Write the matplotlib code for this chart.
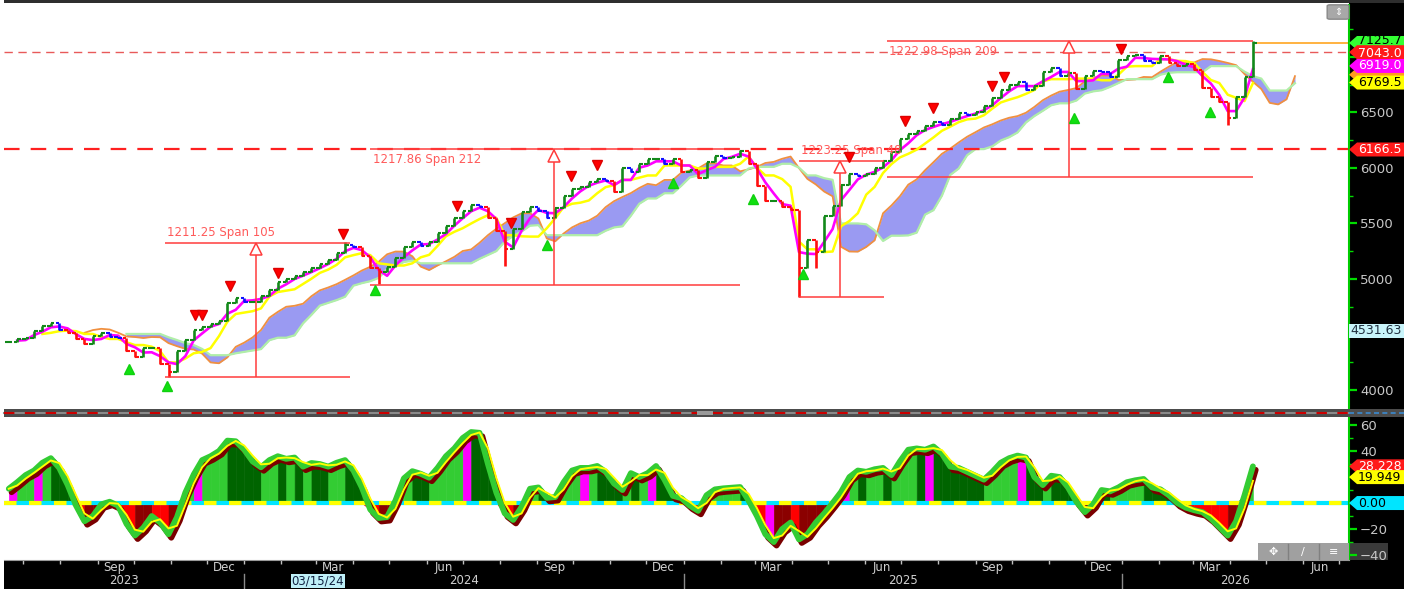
import numpy as np
import pandas as pd
import matplotlib
matplotlib.use("Agg")
import matplotlib.pyplot as plt
import matplotlib.dates as mdates
from matplotlib import patheffects as pe
from matplotlib.patches import Rectangle, Polygon, FancyBboxPatch
from matplotlib.lines import Line2D
from matplotlib.ticker import MultipleLocator

W, H = 1414, 589

# ---- weekly data (week starting Monday) ----
week_start = "2023-06-19"
closes = [
    4430, 4460, 4470, 4530, 4580, 4600, 4545, 4510, 4460, 4410,
    4490, 4510, 4480, 4470, 4350, 4300, 4375, 4380, 4230, 4160,
    4350, 4450, 4545, 4570, 4595, 4620, 4780, 4825, 4790, 4790,
    4850, 4905, 4975, 5000, 5025, 5060, 5100, 5135, 5170, 5230,
    5310, 5290, 5210, 5100, 5060, 5105, 5185, 5290, 5330, 5300,
    5330, 5410, 5480, 5550, 5615, 5670, 5650, 5550, 5430, 5270,
    5450, 5600, 5645, 5615, 5545, 5640, 5750, 5810, 5830, 5870,
    5905, 5880, 5785, 6000, 5965, 6040, 6080, 6080, 6040, 6080,
    5965, 5980, 5910, 6050, 6110, 6090, 6100, 6150, 6040, 5840,
    5700, 5700, 5650, 5620, 5100, 5350, 5240, 5570, 5660, 5850,
    5945, 5930, 5950, 6000, 6060, 6140, 6260, 6305, 6330, 6380,
    6410, 6390, 6440, 6495, 6480, 6500, 6560, 6630, 6700, 6750,
    6775, 6700, 6740, 6860, 6900, 6830, 6855, 6710, 6830, 6870,
    6860, 6820, 6970, 7005, 7015, 6965, 6950, 7010, 6945, 6915,
    6935, 6880, 6720, 6640, 6595, 6450, 6640, 6820, 7125,
]
wick_low_weeks = [19, 44, 59, 94, 96, 145]
wick_lows = [4117, 4953, 5119, 4835, 5100, 6385]
wick_high_weeks = [40, 87, 148]
wick_highs = [5330, 6166, 7142]

osc = [
    11, 16, 21.5, 25, 31, 34.5, 27, 14, -2, -14,
    -10, -1, 1, -2, -16, -25, -19, -10, -15, -24,
    -11, 8, 22, 33, 36, 40, 48, 47.5, 41, 32,
    27.5, 33, 36, 34, 35, 28, 30.8, 30, 28, 31,
    33, 25, 12, -5, -11.5, -10.8, 2, 19, 24.5, 22.5,
    19.5, 27, 36, 42, 50, 54.6, 54, 30, 8, -8,
    -13, -3, 11, 12, 4, 4.6, 16, 25, 27, 27,
    28.5, 24, 15, 10, 23, 20, 23, 28.5, 18, 5.5,
    3.8, -2, -6, 6, 10.5, 11.3, 11.8, 12.3, 2, -10,
    -24, -30, -20, -15, -28, -24, -15, -8, 0, 8.5,
    20, 25, 24, 26, 27, 21.5, 32, 41, 42, 41,
    43.5, 38, 28, 27, 24, 21, 18, 24, 31, 34.5,
    36.5, 35, 20, 13.8, 21, 20, 12, 1, -7, -1,
    10, 9, 12, 16, 17.5, 18.5, 12, 10.5, 6, 0,
    -3.5, -5.5, -7, -12, -18.5, -25, -14, 6, 28.2,
]
magenta_weeks = [1, 4, 23, 55, 69, 77, 91, 100, 110, 121]

sell_dates = ["2023-11-21", "2023-11-27", "2023-12-20", "2024-01-29", "2024-03-23",
              "2024-06-26", "2024-08-10", "2024-09-29", "2024-10-21", "2025-05-19",
              "2025-07-04", "2025-07-28", "2025-09-15", "2025-09-25", "2025-12-31"]
sell_levels = [4676, 4676, 4937, 5054, 5405, 5658, 5505, 5928, 6027, 6099,
               6423, 6541, 6739, 6820, 7072]
buy_dates = ["2023-09-27", "2023-10-29", "2024-04-19", "2024-09-09", "2024-12-23",
             "2025-02-28", "2025-04-10", "2025-11-22", "2026-02-08", "2026-03-15"]
buy_levels = [4189, 4036, 4901, 5306, 5865, 5721, 5045, 6450, 6820, 6505]

span_labels = ["1211.25 Span 105", "1217.86 Span 212", "1223.25 Span 48", "1222.98 Span 209"]
span_start = ["2023-10-27", "2024-04-15", "2025-04-07", "2025-06-19"]
span_end = ["2024-03-29", "2025-02-17", "2025-06-17", "2026-04-20"]
span_mid = ["2024-01-11", "2024-09-15", "2025-05-11", "2025-11-18"]
span_low = [4117, 4948.64, 4838, 5919]
span_high = [5328.25, 6166.5, 6061.25, 7141.98]
span_text_above = [True, False, True, False]

level_lines = [7043.0, 6166.5]
last_price = 7125.7
price_ticks = [4000, 4500, 5000, 5500, 6000, 6500, 7000]
price_tick_labels = ["4000", "", "5000", "5500", "6000", "6500", ""]
osc_ticks = [-40, -20, 0, 20, 40, 60]
osc_tick_labels = ["\u221240", "\u221220", "", "", "40", "60"]
# value, text, face colour, text colour, text shift (px, up)
price_tags = [(6840, "", "#ff9a20", "black", 0),
              (7125.7, "7125.7", "#33ff33", "black", 2.5),
              (7043.0, "7043.0", "#ff1a1a", "white", -1),
              (6919.0, "6919.0", "#ff00ff", "white", 0),
              (6769.5, "6769.5", "#ffff00", "black", 0),
              (6166.5, "6166.5", "#ff1a1a", "white", 0)]
osc_tags = [(28.228, "28.228", "#ff1a1a", "white", 0),
            (19.949, "19.949", "#ffff00", "black", 0),
            (0.0, "0.00", "#00e5ff", "black", 0)]
cursor_value = 4531.63
cursor_date = "03/15/24"

# ---- figure ----
fig = plt.figure(figsize=(W / 100, H / 100), dpi=100, facecolor="white")


def fx(px):
    return px / W


def fy(py):
    return 1 - py / H


def box(x0, y0, x1, y1, color, z=-1):
    fig.add_artist(Rectangle((fx(x0), fy(y1)), fx(x1) - fx(x0), fy(y0) - fy(y1),
                             facecolor=color, edgecolor="none", zorder=z))


box(1349, 0, 1404, 589, "black")
box(4, 560, 1404, 589, "black")
box(4, 0, 1404, 3, "#2e2e2e")
box(1349, 543, 1388, 560, "#3a3a3a", z=-0.5)

ax1 = fig.add_axes([fx(4), fy(408), fx(1349) - fx(4), fy(5) - fy(408)])
ax2 = fig.add_axes([fx(4), fy(560), fx(1349) - fx(4), fy(418) - fy(560)])

xmin = mdates.date2num(pd.Timestamp("2023-06-15"))
xmax = mdates.date2num(pd.Timestamp("2026-07-09"))
for ax in (ax1, ax2):
    ax.set_xlim(xmin, xmax)
ax1.set_ylim(3838, 7468)
ax2.set_ylim(-43.8, 65.4)

dates = pd.date_range(week_start, periods=len(closes), freq="7D")
ext_dates = pd.date_range(week_start, periods=len(closes) + 5, freq="7D")
xn = mdates.date2num(dates)

c = np.array(closes, float)
o = np.r_[c[0], c[:-1]]
hi = np.maximum(o, c)
lo = np.minimum(o, c)
hi[wick_high_weeks] = wick_highs
lo[wick_low_weeks] = wick_lows

h_s, l_s = pd.Series(hi), pd.Series(lo)
tenkan = (h_s.rolling(2).max() + l_s.rolling(2).min()) / 2
kijun = (h_s.rolling(5).max() + l_s.rolling(5).min()) / 2
span_a = (tenkan + kijun) / 2
span_b = (h_s.rolling(10).max() + l_s.rolling(10).min()) / 2
xc = mdates.date2num(ext_dates[5:])

# cloud
ax1.fill_between(xc, span_a, span_b, color="#9a9af2", lw=0, zorder=1)
ax1.plot(xc, span_a, color="#f09040", lw=1.3, zorder=2)
ax1.plot(xc, span_b, color="#b0eea8", lw=1.6, zorder=2)
ax1.plot(xn, kijun, color="#ffff00", lw=1.8, zorder=3)
ax1.plot(xn, tenkan, color="#ff00ff", lw=1.9, zorder=3)

# price bars
bar_col = []
for i in range(len(c)):
    if c[i] >= o[i]:
        bar_col.append("#13891a")
    elif not np.isnan(kijun[i]) and c[i] >= kijun[i]:
        bar_col.append("#1010ff")
    else:
        bar_col.append("#ff1010")
ax1.vlines(xn, lo, hi, colors=bar_col, lw=1.9, zorder=4)
ax1.hlines(o, xn - 3, xn, colors=bar_col, lw=1.5, zorder=4)
ax1.hlines(c, xn, xn + 3, colors=bar_col, lw=1.5, zorder=4)

# horizontal levels
ax1.axhline(level_lines[0], color="#e85a5a", lw=1.0, dashes=(6, 4), zorder=2)
ax1.axhline(level_lines[1], color="#ff2020", lw=1.6, dashes=(7, 5), zorder=2)
ax1.hlines(last_price, xn[-1], xmax, color="#ffa520", lw=1.2, zorder=2)

# span measurements
red = "#ff3c3c"
for lab, s, e, m, lv, hv, above in zip(span_labels, span_start, span_end, span_mid,
                                       span_low, span_high, span_text_above):
    s, e, m = (mdates.date2num(pd.Timestamp(d)) for d in (s, e, m))
    ax1.hlines([lv, hv], s, e, color=red, lw=1.1, zorder=5)
    ax1.vlines(m, lv, hv, color=red, lw=1.1, zorder=5)
    ax1.plot(m, hv - 55, marker="^", ms=9, mfc="white", mec=red, mew=1.1, zorder=6)
    ax1.text(s + 2, hv + 35 if above else hv - 35, lab, color="#ff5a5a", fontsize=8.5,
             va="bottom" if above else "top", ha="left", zorder=6)

# signals
ax1.plot(mdates.date2num(pd.to_datetime(sell_dates)), sell_levels, "v", color="#ff0000",
         ms=7, mec="#dd0000", zorder=7)
ax1.plot(mdates.date2num(pd.to_datetime(buy_dates)), buy_levels, "^", color="#10e010",
         ms=7, mec="#10d010", zorder=7)

# ---- oscillator ----
v = np.array(osc, float)
for i in range(len(v) - 1):
    sx = xn[i:i + 2]
    sv = v[i:i + 2]
    rising = v[i + 1] >= v[i]
    if (i + 1) in magenta_weeks:
        cp = cn = "#ff00ff"
    else:
        cp = "#33cc33" if rising else "#006400"
        cn = "#8b0000" if rising else "#ff0000"
    ax2.fill_between(sx, 0, np.clip(sv, 0, None), color=cp, lw=0.4, ec=cp, zorder=1)
    ax2.fill_between(sx, np.clip(sv, None, 0), 0, color=cn, lw=0.4, ec=cn, zorder=1)

ax2.axhline(0, color="#00e5ff", lw=3, zorder=2)
ax2.axhline(0, color="#ffff00", lw=3, dashes=(3, 3), zorder=2)
ax2.plot(xn, v, color="#33cc33", lw=4.2, solid_capstyle="round", zorder=3,
         path_effects=[pe.SimpleLineShadow(offset=(2, -2.5), shadow_color="#7a0000", alpha=1),
                       pe.Normal()])
ax2.plot(xn, pd.Series(v).rolling(2, min_periods=1).mean(), color="#ffff00", lw=1.4, zorder=4)

# ---- axes styling ----
for ax in (ax1, ax2):
    ax.set_facecolor("white")
    for sp in ("top", "left", "bottom"):
        ax.spines[sp].set_visible(False)
    ax.spines["right"].set_color("#00cc00")
    ax.spines["right"].set_linewidth(1.5)
    ax.yaxis.tick_right()
    ax.tick_params(axis="y", which="major", colors="#00dd00", labelcolor="#c8c8c8",
                   length=6, width=1.6, labelsize=9.5, pad=2)
    ax.tick_params(axis="y", which="minor", colors="#00dd00", length=3, width=1)

ax1.set_yticks(price_ticks)
ax1.set_yticklabels(price_tick_labels)
ax1.yaxis.set_minor_locator(MultipleLocator(250))
ax1.tick_params(axis="x", which="both", bottom=False, labelbottom=False)
ax2.set_yticks(osc_ticks)
ax2.set_yticklabels(osc_tick_labels)
ax2.yaxis.set_minor_locator(MultipleLocator(10))

ax2.spines["bottom"].set_visible(True)
ax2.spines["bottom"].set_color("#9a9a9a")
month_ticks = [pd.Timestamp(f"{y}-{m:02d}-15") for y in (2023, 2024, 2025, 2026)
               for m in (3, 6, 9, 12)]
month_ticks = [d for d in month_ticks if xmin < mdates.date2num(d) < xmax]
ax2.set_xticks(mdates.date2num(month_ticks))
ax2.set_xticklabels([d.strftime("%b") for d in month_ticks])
ax2.xaxis.set_minor_locator(mdates.MonthLocator())
ax2.tick_params(axis="x", which="major", length=0, labelcolor="#d0d0d0", labelsize=8.5, pad=0.5)
ax2.tick_params(axis="x", which="minor", length=3, color="#c0c0c0", width=1)


def px_of(date):
    return ax2.transData.transform((mdates.date2num(pd.Timestamp(date)), 0))[0]


# years row
bounds = [4, px_of("2024-01-01"), px_of("2025-01-01"), px_of("2026-01-01"), 1349]
for i, yr in enumerate(["2023", "2024", "2025", "2026"]):
    fig.text(fx((bounds[i] + bounds[i + 1]) / 2), fy(581), yr, color="#d0d0d0",
             fontsize=8.5, ha="center", va="center")
for b in bounds[1:4]:
    fig.add_artist(Line2D([fx(b), fx(b)], [fy(574), fy(588)], color="#8a8a8a", lw=1))
fig.text(fx(318), fy(581), cursor_date, color="#102040", fontsize=8.5, ha="center", va="center",
         bbox=dict(boxstyle="square,pad=0.08", fc="#bff0f8", ec="none"), zorder=8)

# separator between panels
box(4, 409, 1404, 417, "#4c4c4c", z=5)
fig.add_artist(Line2D([fx(4), fx(1349)], [fy(413), fy(413)], color="#8a8a8a", lw=1.5, zorder=6))
fig.add_artist(Line2D([fx(4), fx(1349)], [fy(413), fy(413)], color="#cc0000", lw=1.5,
                      dashes=(5, 5), zorder=6))
fig.add_artist(Line2D([fx(1349), fx(1404)], [fy(413), fy(413)], color="#3a8ad0", lw=1.2,
                      dashes=(3, 2), zorder=6))
box(697, 411, 713, 415, "#9a9a9a", z=7)

# ---- value tags on the right ----
inv = fig.transFigure.inverted()


def tag(ax, value, text, face, fg, shift=0, arrow=True):
    yf = inv.transform(ax.transData.transform((xmin, value)))[1]
    hh = 7 / H
    if arrow:
        pts = [(fx(1349), yf), (fx(1357), yf + hh), (fx(1406), yf + hh),
               (fx(1406), yf - hh), (fx(1357), yf - hh)]
        tx = 1358
    else:
        pts = [(fx(1349), yf + hh), (fx(1406), yf + hh), (fx(1406), yf - hh), (fx(1349), yf - hh)]
        tx = 1350
    fig.add_artist(Polygon(pts, closed=True, facecolor=face, edgecolor="none", zorder=9))
    if text:
        fig.text(fx(tx), yf + shift / H, text, color=fg, fontsize=9, ha="left", va="center",
                 zorder=10)


for val, txt, face, fg, sh in price_tags:
    tag(ax1, val, txt, face, fg, sh)
tag(ax1, cursor_value, f"{cursor_value:.2f}", "#c8f4fa", "#203040", arrow=False)
for val, txt, face, fg, sh in osc_tags:
    tag(ax2, val, txt, face, fg, sh)

# small toolbar widgets
fig.add_artist(FancyBboxPatch((fx(1330), fy(18)), fx(16), fy(6) - fy(18),
                              boxstyle="round,pad=0.002", fc="#a8a8a8", ec="#888888", zorder=9))
fig.text(fx(1338), fy(12), "\u21d5", color="white", fontsize=7, ha="center", va="center", zorder=10)
box(1258, 543, 1349, 560, "#a0a0a0", z=9)
for xs in (1288, 1319):
    fig.add_artist(Line2D([fx(xs), fx(xs)], [fy(544), fy(559)], color="#808080", lw=1, zorder=10))
for xs, g in zip((1273, 1303, 1334), ("\u2725", "\u2215", "\u2261")):
    fig.text(fx(xs), fy(551.5), g, color="white", fontsize=8, ha="center", va="center", zorder=10)

# trim right margin
box(1404, 0, 1414, 589, "white", z=20)

fig.savefig("out.png", dpi=100, facecolor="white")
